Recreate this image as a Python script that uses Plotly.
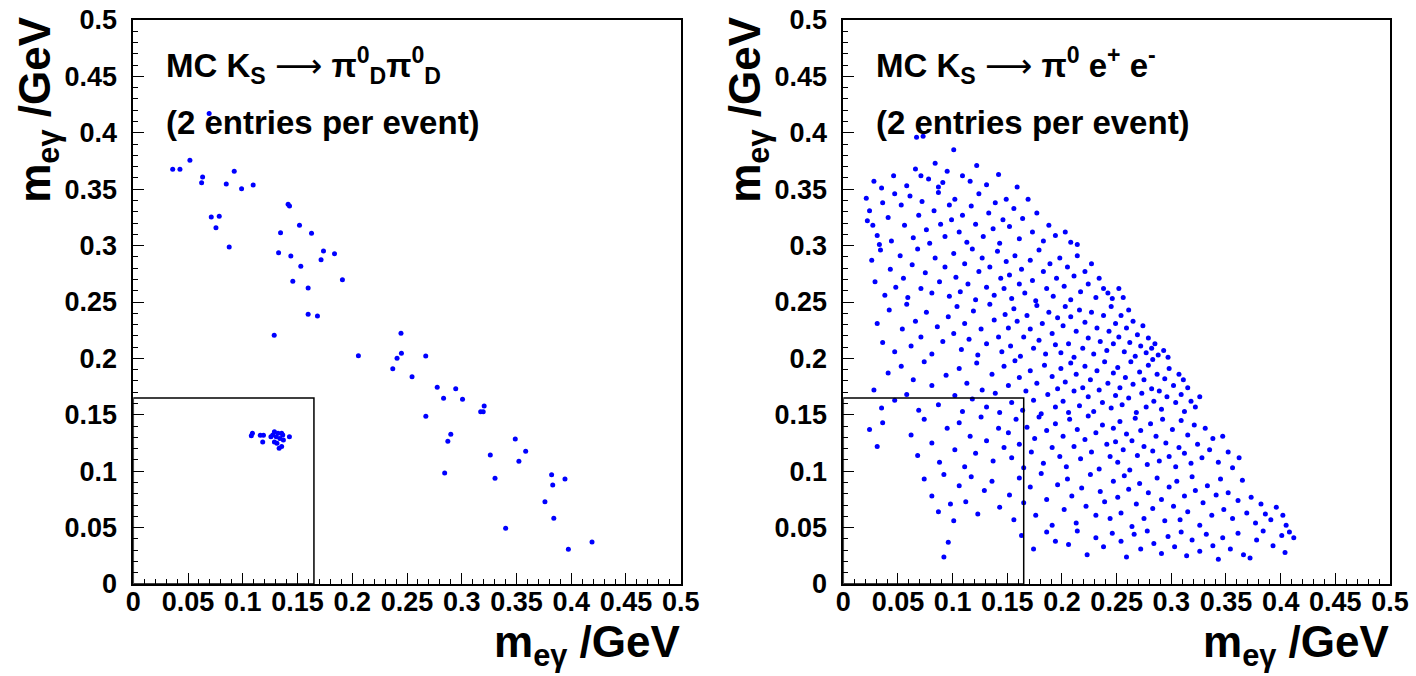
import plotly.graph_objects as go

# ---------------- data ----------------
# Left panel: MC K_S -> pi0_D pi0_D (m_egamma pairs, GeV)
left_x = [0.0693, 0.036, 0.0426, 0.0517, 0.0633, 0.0624, 0.0849, 0.0922, 0.0989, 0.1095,
          0.1414, 0.1427, 0.0712, 0.0785, 0.0755, 0.0876, 0.1345, 0.1518, 0.1628, 0.1327,
          0.1439, 0.1737, 0.1838, 0.1715, 0.153, 0.191, 0.1457, 0.1597, 0.1597, 0.1682,
          0.1287, 0.2445, 0.2056, 0.2449, 0.2409, 0.2671, 0.237, 0.2546,
          0.1078, 0.1088, 0.116, 0.1189, 0.1182, 0.1426, 0.1257, 0.1289, 0.1289, 0.1322,
          0.1339, 0.1355, 0.1371, 0.1332, 0.1355, 0.1306, 0.1274, 0.1365, 0.1312,
          0.2776, 0.2945, 0.2834, 0.3007, 0.2672, 0.3205, 0.3173, 0.3196, 0.29, 0.2873,
          0.3489, 0.3584, 0.3261, 0.3522, 0.2844, 0.3304, 0.3821, 0.3943, 0.3831, 0.376,
          0.3841, 0.3401, 0.419, 0.3974]
left_y = [0.417, 0.3677, 0.3677, 0.3756, 0.3608, 0.3558, 0.3546, 0.3659, 0.3505, 0.3537,
          0.3366, 0.3351, 0.3254, 0.326, 0.3159, 0.2988, 0.3115, 0.318, 0.3109, 0.2937,
          0.2908, 0.2952, 0.2928, 0.2875, 0.2816, 0.2698, 0.2684, 0.2624, 0.2391, 0.2376,
          0.2205, 0.2222, 0.2024, 0.2045, 0.2001, 0.2021, 0.1909, 0.1838,
          0.1315, 0.1336, 0.1318, 0.1318, 0.1259, 0.1306, 0.1306, 0.135, 0.1259, 0.1336,
          0.1291, 0.1336, 0.1277, 0.1203, 0.1218, 0.1306, 0.1321, 0.1321, 0.1247,
          0.1744, 0.1732, 0.1646, 0.1637, 0.1487, 0.1578, 0.1528, 0.1528, 0.1327, 0.1265,
          0.1285, 0.1176, 0.1144, 0.1088, 0.0984, 0.0937, 0.0969, 0.0931, 0.0878, 0.073,
          0.0582, 0.0494, 0.0372, 0.0307]

# Right panel: MC K_S -> pi0 e+ e-  (estimated cell by cell, 0.05 x 0.05 GeV cells)
right_pts = [
    # y 0.35 - 0.40
    (0.028, 0.357), (0.035, 0.351), (0.046, 0.362),
    (0.067, 0.396), (0.073, 0.397), (0.066, 0.368), (0.078, 0.359), (0.084, 0.373), (0.091, 0.356),
    (0.058, 0.353), (0.095, 0.366), (0.071, 0.362), (0.087, 0.352),
    (0.101, 0.385), (0.122, 0.371), (0.109, 0.362), (0.116, 0.357), (0.131, 0.354), (0.142, 0.363),
    (0.159, 0.352),
    # y 0.30 - 0.35
    (0.021, 0.342), (0.024, 0.331), (0.027, 0.318), (0.031, 0.309), (0.036, 0.338), (0.041, 0.325),
    (0.044, 0.304), (0.047, 0.346), (0.033, 0.301), (0.022, 0.322),
    (0.053, 0.336), (0.056, 0.318), (0.061, 0.344), (0.064, 0.307), (0.069, 0.327), (0.072, 0.339),
    (0.076, 0.314), (0.079, 0.302), (0.083, 0.331), (0.087, 0.347), (0.089, 0.319), (0.093, 0.308),
    (0.097, 0.336), (0.099, 0.323),
    (0.102, 0.341), (0.106, 0.312), (0.109, 0.327), (0.113, 0.303), (0.117, 0.335), (0.121, 0.319),
    (0.124, 0.346), (0.128, 0.308), (0.133, 0.329), (0.137, 0.315), (0.139, 0.338), (0.143, 0.302),
    (0.146, 0.323), (0.149, 0.341),
    (0.152, 0.317), (0.156, 0.333), (0.161, 0.306), (0.164, 0.324), (0.169, 0.341), (0.173, 0.312),
    (0.177, 0.329), (0.183, 0.304), (0.188, 0.318), (0.194, 0.309),
    (0.203, 0.312), (0.208, 0.303), (0.214, 0.301),
    # y 0.25 - 0.30
    (0.026, 0.287), (0.029, 0.268), (0.034, 0.296), (0.038, 0.256), (0.043, 0.279), (0.048, 0.263),
    (0.052, 0.291), (0.055, 0.271), (0.059, 0.254), (0.063, 0.283), (0.068, 0.297), (0.071, 0.262),
    (0.075, 0.276), (0.081, 0.258), (0.084, 0.289), (0.088, 0.268), (0.093, 0.281), (0.097, 0.255),
    (0.101, 0.293), (0.103, 0.272), (0.107, 0.259), (0.111, 0.284), (0.114, 0.266), (0.118, 0.297),
    (0.121, 0.252), (0.124, 0.277), (0.127, 0.289), (0.131, 0.263), (0.134, 0.281), (0.138, 0.256),
    (0.141, 0.295), (0.144, 0.271), (0.147, 0.262), (0.149, 0.286),
    (0.152, 0.274), (0.154, 0.253), (0.157, 0.291), (0.161, 0.266), (0.163, 0.279), (0.166, 0.258),
    (0.171, 0.287), (0.173, 0.269), (0.176, 0.251), (0.179, 0.296), (0.183, 0.277), (0.186, 0.262),
    (0.189, 0.284), (0.192, 0.255), (0.195, 0.271), (0.198, 0.289),
    (0.202, 0.264), (0.205, 0.281), (0.208, 0.252), (0.211, 0.273), (0.214, 0.291), (0.217, 0.259),
    (0.221, 0.277), (0.224, 0.266), (0.227, 0.284), (0.231, 0.254), (0.234, 0.271), (0.238, 0.262),
    (0.242, 0.258), (0.246, 0.253),
    (0.252, 0.262), (0.256, 0.254),
    # y 0.20 - 0.25
    (0.031, 0.231), (0.036, 0.214), (0.042, 0.243), (0.047, 0.206),
    (0.054, 0.226), (0.058, 0.248), (0.062, 0.211), (0.066, 0.233), (0.071, 0.219), (0.076, 0.241),
    (0.081, 0.204), (0.086, 0.228), (0.091, 0.215), (0.096, 0.237),
    (0.101, 0.222), (0.104, 0.246), (0.108, 0.208), (0.111, 0.231), (0.115, 0.217), (0.119, 0.242),
    (0.123, 0.203), (0.126, 0.226), (0.131, 0.213), (0.134, 0.248), (0.138, 0.234), (0.142, 0.219),
    (0.145, 0.206), (0.148, 0.239),
    (0.151, 0.227), (0.153, 0.211), (0.156, 0.244), (0.159, 0.233), (0.162, 0.202), (0.165, 0.219),
    (0.168, 0.238), (0.171, 0.226), (0.174, 0.209), (0.177, 0.247), (0.179, 0.216), (0.182, 0.231),
    (0.185, 0.204), (0.188, 0.241), (0.191, 0.222), (0.194, 0.212), (0.196, 0.236), (0.199, 0.205),
    (0.201, 0.229), (0.203, 0.246), (0.206, 0.213), (0.208, 0.237), (0.211, 0.201), (0.213, 0.224),
    (0.216, 0.243), (0.219, 0.209), (0.221, 0.232), (0.224, 0.218), (0.227, 0.241), (0.229, 0.204),
    (0.232, 0.227), (0.235, 0.215), (0.238, 0.238), (0.241, 0.207), (0.243, 0.224), (0.245, 0.246),
    (0.247, 0.213), (0.249, 0.231),
    (0.252, 0.219), (0.254, 0.238), (0.257, 0.206), (0.259, 0.227), (0.262, 0.214), (0.265, 0.233),
    (0.267, 0.202), (0.269, 0.221), (0.272, 0.211), (0.274, 0.229), (0.277, 0.205), (0.279, 0.218),
    (0.282, 0.209), (0.285, 0.213), (0.288, 0.203), (0.261, 0.243),
    (0.293, 0.207), (0.297, 0.201),
    # y 0.15 - 0.20
    (0.028, 0.172), (0.035, 0.156), (0.041, 0.187), (0.047, 0.163),
    (0.053, 0.193), (0.058, 0.168), (0.064, 0.181), (0.069, 0.154), (0.074, 0.197), (0.081, 0.176),
    (0.087, 0.159), (0.094, 0.185),
    (0.102, 0.167), (0.106, 0.191), (0.109, 0.153), (0.113, 0.178), (0.118, 0.164), (0.122, 0.196),
    (0.127, 0.172), (0.131, 0.157), (0.136, 0.186), (0.139, 0.169), (0.143, 0.152), (0.147, 0.193),
    (0.151, 0.176), (0.154, 0.161), (0.157, 0.198), (0.161, 0.183), (0.164, 0.154), (0.167, 0.171),
    (0.171, 0.189), (0.174, 0.163), (0.177, 0.178), (0.181, 0.151), (0.184, 0.194), (0.187, 0.168),
    (0.191, 0.184), (0.194, 0.157), (0.196, 0.173), (0.199, 0.191),
    (0.201, 0.162), (0.203, 0.179), (0.206, 0.152), (0.208, 0.196), (0.211, 0.171), (0.213, 0.186),
    (0.216, 0.158), (0.219, 0.174), (0.221, 0.193), (0.224, 0.166), (0.226, 0.181), (0.229, 0.153),
    (0.232, 0.189), (0.234, 0.172), (0.237, 0.161), (0.239, 0.197), (0.242, 0.178), (0.245, 0.156),
    (0.247, 0.187), (0.249, 0.167),
    (0.251, 0.192), (0.253, 0.174), (0.255, 0.159), (0.258, 0.183), (0.261, 0.165), (0.263, 0.197),
    (0.265, 0.177), (0.268, 0.152), (0.271, 0.188), (0.273, 0.169), (0.275, 0.181), (0.277, 0.157),
    (0.279, 0.194), (0.282, 0.173), (0.284, 0.162), (0.287, 0.186), (0.289, 0.171), (0.291, 0.155),
    (0.294, 0.182), (0.296, 0.166), (0.298, 0.191), (0.283, 0.199),
    (0.302, 0.176), (0.304, 0.161), (0.307, 0.186), (0.309, 0.168), (0.312, 0.153), (0.315, 0.174),
    (0.318, 0.162), (0.322, 0.157), (0.326, 0.166), (0.311, 0.181),
    # y 0.10 - 0.15
    (0.024, 0.137), (0.031, 0.122), (0.036, 0.143),
    (0.062, 0.132), (0.068, 0.114), (0.074, 0.146), (0.081, 0.125), (0.088, 0.108), (0.095, 0.138),
    (0.102, 0.119), (0.106, 0.143), (0.111, 0.104), (0.116, 0.131), (0.121, 0.116), (0.126, 0.148),
    (0.131, 0.127), (0.137, 0.109), (0.142, 0.138), (0.147, 0.121),
    (0.151, 0.134), (0.154, 0.112), (0.158, 0.146), (0.161, 0.124), (0.165, 0.103), (0.168, 0.139),
    (0.172, 0.117), (0.175, 0.129), (0.179, 0.148), (0.183, 0.107), (0.186, 0.136), (0.191, 0.121),
    (0.194, 0.142), (0.198, 0.113),
    (0.201, 0.131), (0.204, 0.104), (0.207, 0.146), (0.211, 0.122), (0.214, 0.137), (0.217, 0.111),
    (0.221, 0.128), (0.224, 0.149), (0.227, 0.117), (0.231, 0.134), (0.234, 0.102), (0.237, 0.141),
    (0.241, 0.124), (0.244, 0.113), (0.247, 0.138), (0.249, 0.126),
    (0.251, 0.108), (0.253, 0.144), (0.256, 0.119), (0.259, 0.133), (0.262, 0.101), (0.264, 0.127),
    (0.267, 0.147), (0.269, 0.114), (0.272, 0.136), (0.275, 0.122), (0.278, 0.106), (0.281, 0.142),
    (0.283, 0.118), (0.286, 0.131), (0.289, 0.109), (0.292, 0.146), (0.295, 0.125), (0.298, 0.113),
    (0.301, 0.137), (0.304, 0.104), (0.307, 0.121), (0.309, 0.145), (0.312, 0.116), (0.315, 0.132),
    (0.318, 0.107), (0.321, 0.141), (0.324, 0.124), (0.328, 0.112), (0.331, 0.138), (0.335, 0.119),
    (0.338, 0.129), (0.343, 0.108),
    (0.352, 0.117), (0.356, 0.103), (0.362, 0.112), (0.347, 0.131),
    # y 0.05 - 0.10
    (0.074, 0.093), (0.081, 0.078), (0.087, 0.064), (0.092, 0.097), (0.098, 0.071),
    (0.101, 0.056), (0.106, 0.087), (0.112, 0.073), (0.117, 0.095), (0.123, 0.062), (0.129, 0.083),
    (0.136, 0.091), (0.143, 0.068),
    (0.152, 0.079), (0.156, 0.057), (0.161, 0.094), (0.165, 0.072), (0.171, 0.086), (0.176, 0.061),
    (0.181, 0.098), (0.186, 0.075), (0.191, 0.052), (0.196, 0.088),
    (0.202, 0.066), (0.205, 0.093), (0.209, 0.078), (0.213, 0.054), (0.218, 0.085), (0.222, 0.069),
    (0.226, 0.097), (0.231, 0.061), (0.235, 0.082), (0.239, 0.073), (0.244, 0.058), (0.247, 0.091),
    (0.251, 0.077), (0.254, 0.063), (0.257, 0.096), (0.261, 0.084), (0.264, 0.051), (0.268, 0.071),
    (0.271, 0.089), (0.275, 0.058), (0.279, 0.081), (0.283, 0.067), (0.287, 0.094), (0.291, 0.075),
    (0.294, 0.056), (0.298, 0.086),
    (0.302, 0.069), (0.305, 0.091), (0.308, 0.057), (0.312, 0.078), (0.315, 0.064), (0.319, 0.095),
    (0.322, 0.083), (0.326, 0.052), (0.329, 0.072), (0.333, 0.087), (0.337, 0.061), (0.341, 0.079),
    (0.345, 0.093), (0.348, 0.066),
    (0.352, 0.081), (0.356, 0.058), (0.361, 0.074), (0.365, 0.092), (0.369, 0.063), (0.373, 0.077),
    (0.377, 0.054), (0.382, 0.071), (0.386, 0.062), (0.391, 0.057),
    (0.402, 0.061), (0.405, 0.052), (0.396, 0.068),
    # y 0.00 - 0.05
    (0.092, 0.024), (0.096, 0.037),
    (0.163, 0.043), (0.174, 0.031), (0.186, 0.046), (0.194, 0.038),
    (0.206, 0.035), (0.214, 0.047), (0.223, 0.026), (0.231, 0.041), (0.238, 0.033), (0.246, 0.045),
    (0.254, 0.038), (0.259, 0.024), (0.266, 0.044), (0.272, 0.031), (0.278, 0.047), (0.284, 0.036),
    (0.291, 0.027), (0.297, 0.042),
    (0.303, 0.033), (0.309, 0.046), (0.314, 0.025), (0.319, 0.039), (0.326, 0.029), (0.332, 0.044),
    (0.338, 0.034), (0.343, 0.022), (0.347, 0.041),
    (0.354, 0.031), (0.361, 0.045), (0.366, 0.026), (0.372, 0.023), (0.378, 0.039), (0.384, 0.047),
    (0.393, 0.034),
    (0.401, 0.043), (0.408, 0.046), (0.404, 0.028), (0.412, 0.041),
]
right_x = [p[0] for p in right_pts]
right_y = [p[1] for p in right_pts]

tick_vals = [0, 0.05, 0.1, 0.15, 0.2, 0.25, 0.3, 0.35, 0.4, 0.45, 0.5]
tick_text = ["0", "0.05", "0.1", "0.15", "0.2", "0.25", "0.3", "0.35", "0.4", "0.45", "0.5"]
signal_box = 0.165  # edge of the signal box (GeV)

# ---------------- figure ----------------
W, H = 1416, 676
FONT = "Liberation Sans, Arial, Helvetica, sans-serif"
BLUE = "#0000ff"

fig = go.Figure()
fig.add_trace(go.Scatter(x=left_x, y=left_y, mode="markers", xaxis="x", yaxis="y",
                         marker=dict(color=BLUE, size=5, line=dict(width=0)), showlegend=False))
fig.add_trace(go.Scatter(x=right_x, y=right_y, mode="markers", xaxis="x2", yaxis="y2",
                         marker=dict(color=BLUE, size=5, line=dict(width=0)), showlegend=False))

y_dom = [1 - 584 / H, 1 - 20 / H]
x1_dom = [133.3 / W, 680.7 / W]
x2_dom = [843.3 / W, 1390 / W]

def axis(domain, anchor, is_x):
    return dict(
        domain=domain, anchor=anchor, range=[0, 0.5], autorange=False, automargin=False,
        showgrid=False, zeroline=False, showline=True, linecolor="black", linewidth=1.5,
        mirror=True, ticks="inside", ticklen=11, tickwidth=1.2, tickcolor="black",
        tickvals=tick_vals, ticktext=tick_text,
        tickfont=dict(family=FONT, size=27, color="black", weight="bold"),
        minor=dict(dtick=0.01, tick0=0, ticks="inside", ticklen=5, tickwidth=1, tickcolor="black"),
        ticklabelstandoff=-7 if is_x else 9,
        fixedrange=True,
    )

fig.update_layout(
    width=W, height=H, autosize=False,
    margin=dict(l=0, r=0, t=0, b=0, pad=0, autoexpand=False),
    paper_bgcolor="white", plot_bgcolor="white",
    xaxis=axis(x1_dom, "y", True),
    yaxis=axis(y_dom, "x", False),
    xaxis2=axis(x2_dom, "y2", True),
    yaxis2=axis(y_dom, "x2", False),
    showlegend=False,
)

# signal boxes
for xr, yr in (("x", "y"), ("x2", "y2")):
    fig.add_shape(type="rect", xref=xr, yref=yr, x0=0, y0=0, x1=signal_box, y1=signal_box,
                  line=dict(color="black", width=1.5), fillcolor="rgba(0,0,0,0)", layer="above")

ann_font = dict(family=FONT, size=33, color="black", weight="bold")
title_font = dict(family=FONT, size=44, color="black", weight="bold")
axis_title = "m<sub>eγ</sub> /GeV"
ARROW = "<span style='font-family:DejaVu Sans;font-weight:normal'>⟶</span>"

texts = [
    (0.028, 0.46, "MC K<sub>S</sub> " + ARROW + " π<sup>0</sup><sub>D</sub>π<sup>0</sup><sub>D</sub>", "x", "y"),
    (0.028, 0.409, "(2 entries per event)", "x", "y"),
    (0.028, 0.46, "MC K<sub>S</sub> " + ARROW + " π<sup>0</sup> e<sup>+</sup> e<sup>-</sup>", "x2", "y2"),
    (0.028, 0.409, "(2 entries per event)", "x2", "y2"),
]
for xv, yv, t, xr, yr in texts:
    fig.add_annotation(x=xv, y=yv, xref=xr, yref=yr, text=t, showarrow=False,
                       xanchor="left", yanchor="middle", font=ann_font)

# axis titles
for x_right, x_left in ((683, 133.3), (1392, 843.3)):
    fig.add_annotation(x=x_right / W, y=1 - 645 / H, xref="paper", yref="paper", text=axis_title,
                       showarrow=False, xanchor="right", yanchor="middle", font=title_font)
    fig.add_annotation(x=(x_left - 96) / W, y=1 - 14 / H, xref="paper", yref="paper", text=axis_title,
                       showarrow=False, textangle=-90, xanchor="center", yanchor="top", font=title_font)

fig.write_html("out.html")
